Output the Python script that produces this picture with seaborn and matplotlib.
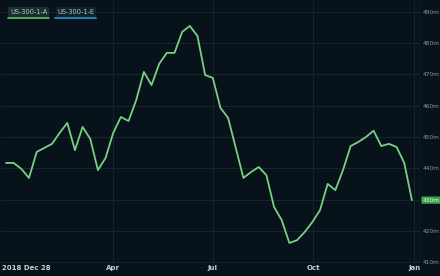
import pandas as pd
import matplotlib.pyplot as plt
from matplotlib.lines import Line2D
import seaborn as sns

# weekly series (values in m)
start_date = '2018-12-24'
values = [441.7, 441.7, 439.8, 436.9, 445.2, 446.5, 447.8, 451.3, 454.5, 445.8,
          453.2, 449.4, 439.4, 443.3, 451.3, 456.4, 455.1, 461.8, 470.8, 466.6,
          473.4, 476.9, 476.9, 483.6, 485.5, 482.3, 469.8, 468.9, 459.3, 456.1,
          446.5, 436.9, 438.8, 440.4, 437.8, 427.6, 423.4, 416.1, 417.0, 419.6,
          422.8, 426.6, 435.0, 433.0, 439.4, 447.1, 448.4, 450.0, 452.0, 447.1,
          447.8, 446.8, 441.7, 429.8]
y_ticks = [410, 420, 430, 440, 450, 460, 470, 480, 490]
x_ticks = ['2019-04-01', '2019-07-01', '2019-10-01', '2020-01-01']
x_labels = ['Apr', 'Jul', 'Oct', 'Jan']
first_label = '2018 Dec 28'
legend_names = ['US-300-1-A', 'US-300-1-E']
legend_colors = ['#5fbf6a', '#2f8fcf']
legend_bgs = ['#18302a', '#122330']
last_label = '430m'

df = pd.DataFrame({'date': pd.date_range(start_date, periods=len(values), freq='7D'),
                   'value': values})

bg = '#08121a'
grid = '#16242e'
sns.set_style('dark', {'axes.facecolor': bg, 'figure.facecolor': bg,
                       'axes.edgecolor': bg, 'grid.color': grid})
plt.rcParams['font.family'] = ['DejaVu Sans']

fig = plt.figure(figsize=(4.4, 2.76), dpi=100)
ax = fig.add_axes([0, 13 / 276, 420 / 440, 263 / 276])

sns.lineplot(data=df, x='date', y='value', ax=ax, color='#78d083', linewidth=1.3)

t0 = pd.Timestamp(start_date)
ax.set_xlim(t0 - pd.Timedelta(days=5.5), t0 + pd.Timedelta(days=378.4))
ymin, ymax = 409.7, 493.8
ax.set_ylim(ymin, ymax)

ax.set_yticks(y_ticks)
ax.set_yticklabels([f'{v}m' for v in y_ticks])
ax.yaxis.tick_right()
ax.tick_params(axis='y', length=0, pad=2, labelsize=4.2, labelcolor='#8c959c')

# vertical grid at month ticks, labels drawn below
tick_dates = [pd.Timestamp(t) for t in x_ticks]
ax.set_xticks(tick_dates)
ax.grid(True, color=grid, linewidth=0.8)
ax.set_xticklabels([])
ax.tick_params(axis='x', length=0)
for d, lab in zip(tick_dates, x_labels):
    ax.text(d, -0.008, lab, transform=ax.get_xaxis_transform(),
            ha='center', va='top', fontsize=5, color='#c8cdd0', fontweight='bold')
ax.text(0.005, -0.008, first_label, transform=ax.transAxes,
        ha='left', va='top', fontsize=5, color='#c8cdd0', fontweight='bold')

ax.axvline(ax.get_xlim()[1], color='#1d3a48', linewidth=1)
ax.set_xlabel('')
ax.set_ylabel('')

# last value tag
ax.text(1.006, (values[-1] - ymin) / (ymax - ymin), last_label, transform=ax.transAxes,
        ha='left', va='center', fontsize=4.2, color='#e6fbe6', clip_on=False,
        bbox=dict(boxstyle='round,pad=0.2', facecolor='#3f9d4c', edgecolor='none'))

# legend boxes
lx = 10 / 440
for name, c, fc in zip(legend_names, legend_colors, legend_bgs):
    t = fig.text(lx, 1 - 12 / 276, name, ha='left', va='center', fontsize=4.8, color='#b8c4c8',
                 bbox=dict(boxstyle='square,pad=0.25', facecolor=fc, edgecolor='none'))
    fig.canvas.draw()
    bb = t.get_window_extent().transformed(fig.transFigure.inverted())
    fig.add_artist(Line2D([bb.x0 - 0.004, bb.x1 + 0.004], [bb.y0 - 0.011, bb.y0 - 0.011],
                          color=c, linewidth=1.2, transform=fig.transFigure))
    lx = bb.x1 + 10 / 440

fig.savefig('out.png', dpi=100, facecolor=bg)
